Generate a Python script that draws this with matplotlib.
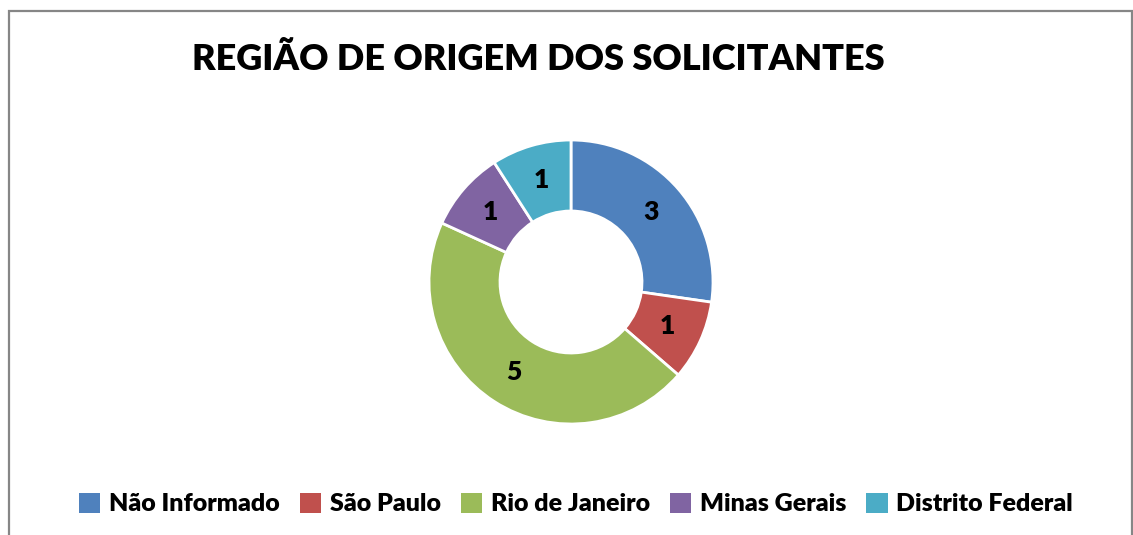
import matplotlib
matplotlib.use("Agg")
import matplotlib.pyplot as plt
from matplotlib.patches import Rectangle, Patch

categories = ["Não Informado", "São Paulo", "Rio de Janeiro", "Minas Gerais", "Distrito Federal"]
values = [3, 1, 5, 1, 1]
colors = ["#4F81BD", "#C0504D", "#9BBB59", "#8064A2", "#4BACC6"]
title = "REGIÃO DE ORIGEM DOS SOLICITANTES"

plt.rcParams['font.family'] = ['Lato', 'DejaVu Sans']
WEIGHT = "heavy"

W, H = 1133, 535
fig = plt.figure(figsize=(W / 100, H / 100), dpi=100)

# chart frame
fig.patches.append(Rectangle((8.5 / W, -0.1), (1131.5 - 8.5) / W, (H - 10.5) / H + 0.1,
                             transform=fig.transFigure, fill=False,
                             edgecolor="#868686", linewidth=1.6))

cx, cy, R = 571, 282, 142
ax = fig.add_axes([(cx - R) / W, (H - cy - R) / H, 2 * R / W, 2 * R / H])
wedges, texts = ax.pie(values, colors=colors, startangle=90, counterclock=False,
                       radius=1.0,
                       wedgeprops=dict(width=0.5, edgecolor="white", linewidth=2),
                       labels=[str(v) for v in values], labeldistance=0.75,
                       textprops=dict(fontsize=19, fontweight=WEIGHT, color="black",
                                      ha="center", va="center"))
ax.set_xlim(-1, 1)
ax.set_ylim(-1, 1)
ax.set_aspect("equal")

fig.text(538 / W, 1 - 60 / H, title, ha="center", va="center",
         fontsize=26, fontweight=WEIGHT, color="black")

handles = [Patch(facecolor=c, edgecolor="none") for c in colors]
leg = fig.legend(handles, categories, loc="center", bbox_to_anchor=(576 / W, 1 - 504 / H),
                 ncol=5, frameon=False, handlelength=0.85, handleheight=0.85,
                 handletextpad=0.35, columnspacing=0.8,
                 prop=dict(size=18, weight=WEIGHT))

fig.savefig("out.png", dpi=100)
